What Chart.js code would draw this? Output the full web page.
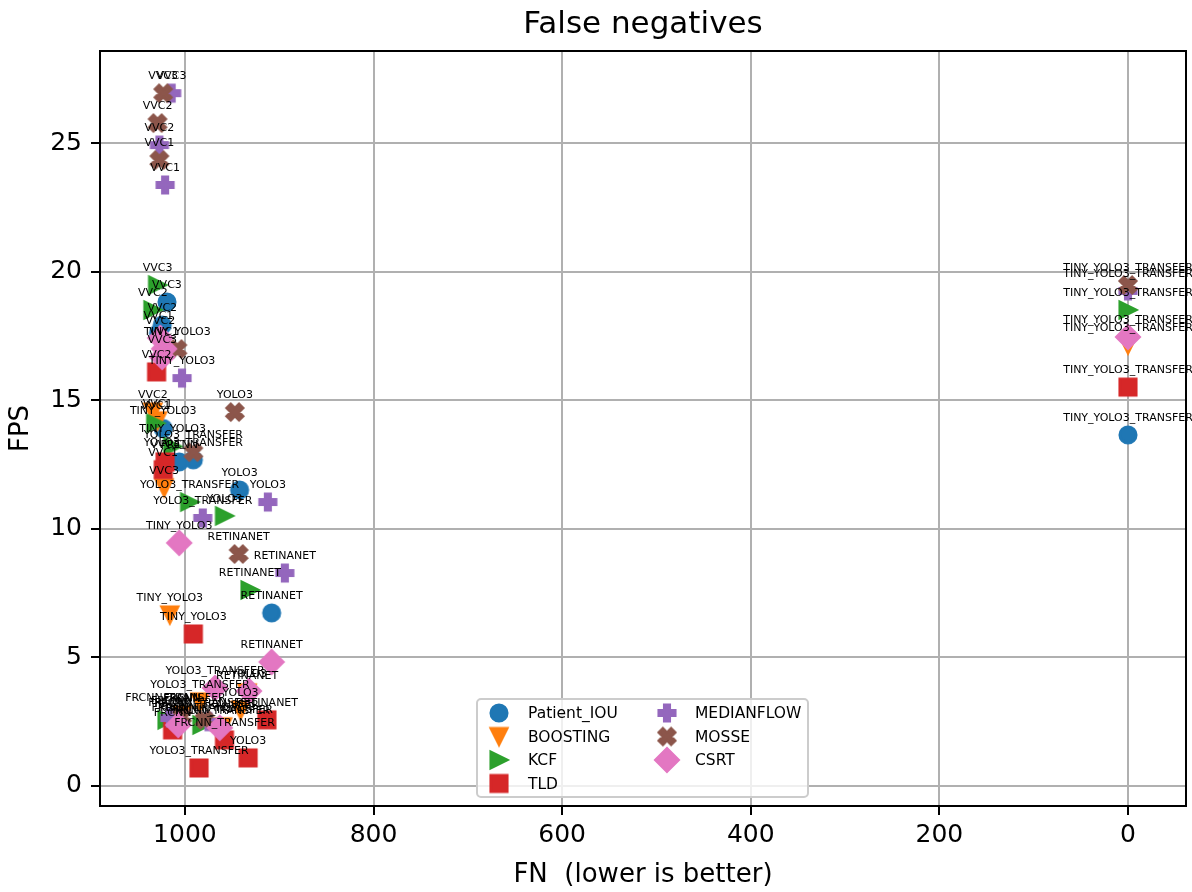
<!DOCTYPE html>
<html>
<head>
<meta charset="utf-8">
<script src="https://cdn.jsdelivr.net/npm/chart.js@4.4.1/dist/chart.umd.min.js"></script>
<style>
  html, body { margin: 0; padding: 0; background: #fff; }
</style>
</head>
<body>
<canvas id="myChart" width="1192" height="892"></canvas>
<script>
// detector names, same order for every tracker
const detectors = ['VVC1', 'VVC2', 'VVC3', 'TINY_YOLO3', 'YOLO3', 'YOLO3_TRANSFER',
    'TINY_YOLO3_TRANSFER', 'RETINANET', 'FRCNN', 'FRCNN_TRANSFER'];

const trackers = ['Patient_IOU', 'BOOSTING', 'KCF', 'TLD', 'MEDIANFLOW', 'MOSSE', 'CSRT'];

// false negatives per detector
const patientFN    = [1028, 1024, 1019, 1023, 942, 991, 0, 908, 1006, 1010];
const boostingFN   = [1029, 1034, 1022, 1016, 941, 984, 0, 934, 1003, 960];
const kcfFN        = [1031, 1034, 1029, 1013, 958, 995, 0, 931, 1019, 982];
const tldFN        = [1023, 1030, 1021, 991, 933, 985, 0, 913, 1013, 958];
const medianflowFN = [1021, 1027, 1014, 1003, 912, 981, 0, 894, 1016, 975];
const mosseFN      = [1027, 1029, 1023, 1008, 947, 991, 0, 943, 1003, 979];
const csrtFN       = [1022, 1026, 1024, 1006, 932, 968, 0, 908, 1007, 963];

// frames per second per detector
const patientFPS    = [17.6, 17.92, 18.82, 13.9, 11.51, 12.68, 13.65, 6.73, 12.6, 2.75];
const boostingFPS   = [14.2, 14.54, 11.6, 6.65, 2.95, 3.27, 17.15, 3.62, 2.75, 2.3];
const kcfFPS        = [14.1, 18.51, 19.48, 13.2, 10.5, 11.04, 18.51, 7.62, 2.57, 2.37];
const tldFPS        = [12.3, 16.1, 12.6, 5.91, 1.09, 0.70, 15.51, 2.57, 2.18, 1.79];
const medianflowFPS = [23.37, 24.92, 26.94, 15.86, 11.04, 10.42, 19.25, 8.28, 2.64, 2.5];
const mosseFPS      = [24.34, 25.78, 26.94, 16.99, 14.54, 12.98, 19.48, 9.02, 2.7, 2.57];
const csrtFPS       = [17.0, 17.42, 16.68, 9.45, 3.69, 3.81, 17.46, 4.82, 2.37, 2.26];

const xTicks = [0, 200, 400, 600, 800, 1000];
const yTicks = [0, 5, 10, 15, 20, 25];

const fnSeries = [patientFN, boostingFN, kcfFN, tldFN, medianflowFN, mosseFN, csrtFN];
const fpsSeries = [patientFPS, boostingFPS, kcfFPS, tldFPS, medianflowFPS, mosseFPS, csrtFPS];
const colors = ['#1f77b4', '#ff7f0e', '#2ca02c', '#d62728', '#9467bd', '#8c564b', '#e377c2'];
const shapes = ['o', 'v', '>', 's', 'P', 'X', 'D'];

const FONT = '"DejaVu Sans", sans-serif';

// filled marker drawn once into a small canvas, used as pointStyle
function makeMarker(shape, color) {
    const size = 34, c = size / 2, m = 16.5;
    const cv = document.createElement('canvas');
    cv.width = size;
    cv.height = size;
    const g = cv.getContext('2d');
    g.fillStyle = color;
    g.strokeStyle = color;
    g.lineWidth = 2.6;
    g.lineJoin = 'miter';
    g.beginPath();
    const poly = (pts, s) => {
        pts.forEach(([x, y], i) => {
            const px = c + x * s, py = c - y * s;
            if (i) g.lineTo(px, py); else g.moveTo(px, py);
        });
        g.closePath();
    };
    if (shape === 'o') g.arc(c, c, m / 2, 0, Math.PI * 2);
    else if (shape === 'v') poly([[0, -1], [-1, 1], [1, 1]], m / 2);
    else if (shape === '>') poly([[1, 0], [-1, 1], [-1, -1]], m / 2);
    else if (shape === 's') poly([[-1, -1], [1, -1], [1, 1], [-1, 1]], m / 2);
    else if (shape === 'D') poly([[0, -1], [1, 0], [0, 1], [-1, 0]], m / 2 * Math.SQRT2);
    else if (shape === 'P') poly([[-1, -3], [1, -3], [1, -1], [3, -1], [3, 1], [1, 1], [1, 3], [-1, 3],
        [-1, 1], [-3, 1], [-3, -1], [-1, -1]], m / 6);
    else if (shape === 'X') poly([[-1, -2], [0, -1], [1, -2], [2, -1], [1, 0], [2, 1], [1, 2], [0, 1],
        [-1, 2], [-2, 1], [-1, 0], [-2, -1]], m / 4);
    g.fill();
    g.stroke();
    return cv;
}

const markers = shapes.map((s, i) => makeMarker(s, colors[i]));

let datasets = [];
for (let i = 0; i < trackers.length; i++) {
    let points = [];
    for (let j = 0; j < detectors.length; j++) {
        points.push({ x: fnSeries[i][j], y: fpsSeries[i][j], label: detectors[j] });
    }
    datasets.push({
        label: trackers[i],
        data: points,
        pointStyle: markers[i],
        backgroundColor: colors[i],
        borderColor: colors[i],
        order: trackers.length - 1 - i
    });
}

// title, frame, point annotations and legend on top of everything
const decorations = {
    id: 'decorations',
    afterDraw(chart) {
        const ctx = chart.ctx;
        const a = chart.chartArea;
        ctx.save();

        ctx.fillStyle = '#000';
        ctx.font = '31px ' + FONT;
        ctx.textAlign = 'center';
        ctx.textBaseline = 'middle';
        ctx.fillText('False negatives', (a.left + a.right) / 2, 25);

        ctx.strokeStyle = '#000';
        ctx.lineWidth = 2;
        ctx.strokeRect(a.left, a.top, a.right - a.left, a.bottom - a.top);

        ctx.font = '11px ' + FONT;
        chart.data.datasets.forEach((ds, i) => {
            chart.getDatasetMeta(i).data.forEach((pt, j) => {
                ctx.fillText(ds.data[j].label, pt.x, pt.y - 17);
            });
        });

        // legend box
        const lx = 477, ly = 699, lw = 331, lh = 98;
        ctx.beginPath();
        ctx.roundRect(lx, ly, lw, lh, 4);
        ctx.fillStyle = 'rgba(255,255,255,0.8)';
        ctx.fill();
        ctx.strokeStyle = '#cccccc';
        ctx.lineWidth = 2;
        ctx.stroke();

        const rows = [713, 736.5, 760, 783.5];
        ctx.font = '15.5px ' + FONT;
        ctx.textAlign = 'left';
        ctx.fillStyle = '#000';
        trackers.forEach((t, i) => {
            const col = i < 4 ? 0 : 1;
            const row = i < 4 ? i : i - 4;
            const mx = col ? 667 : 499;
            const tx = col ? 695 : 528;
            const y = rows[row];
            const mk = markers[i];
            ctx.drawImage(mk, mx - mk.width / 2, y - mk.height / 2);
            ctx.fillText(t, tx, y + 1);
        });
        ctx.restore();
    }
};

const ctx = document.getElementById('myChart').getContext('2d');
const myChart = new Chart(ctx, {
    type: 'scatter',
    data: { datasets: datasets },
    options: {
        responsive: false,
        animation: false,
        events: [],
        layout: { padding: { top: 51, right: 6, left: 0, bottom: 0 } },
        plugins: {
            legend: { display: false },
            tooltip: { enabled: false },
            title: { display: false }
        },
        scales: {
            x: {
                type: 'linear',
                reverse: true,
                min: -61.5,
                max: 1090,
                z: 1,
                afterFit: (scale) => { scale.height = 86; },
                afterBuildTicks: (scale) => { scale.ticks = xTicks.map(v => ({ value: v })); },
                grid: { color: '#b0b0b0', lineWidth: 2, tickColor: '#000', tickLength: 9, tickWidth: 2 },
                border: { color: '#000', width: 2 },
                ticks: {
                    color: '#000', padding: 5, maxRotation: 0,
                    font: { family: FONT, size: 25 },
                    callback: (v) => String(v)
                },
                title: {
                    display: true, text: 'FN  (lower is better)', color: '#000',
                    font: { family: FONT, size: 26 }, padding: { bottom: 1 }
                }
            },
            y: {
                type: 'linear',
                min: -0.78,
                max: 28.58,
                z: 1,
                afterFit: (scale) => { scale.width = 100; },
                afterBuildTicks: (scale) => { scale.ticks = yTicks.map(v => ({ value: v })); },
                grid: { color: '#b0b0b0', lineWidth: 2, tickColor: '#000', tickLength: 9, tickWidth: 2 },
                border: { color: '#000', width: 2 },
                ticks: {
                    color: '#000', padding: 9,
                    font: { family: FONT, size: 25 },
                    callback: (v) => String(v)
                },
                title: {
                    display: true, text: 'FPS', color: '#000',
                    font: { family: FONT, size: 26 }, padding: { top: 6 }
                }
            }
        }
    },
    plugins: [decorations]
});
</script>
</body>
</html>
